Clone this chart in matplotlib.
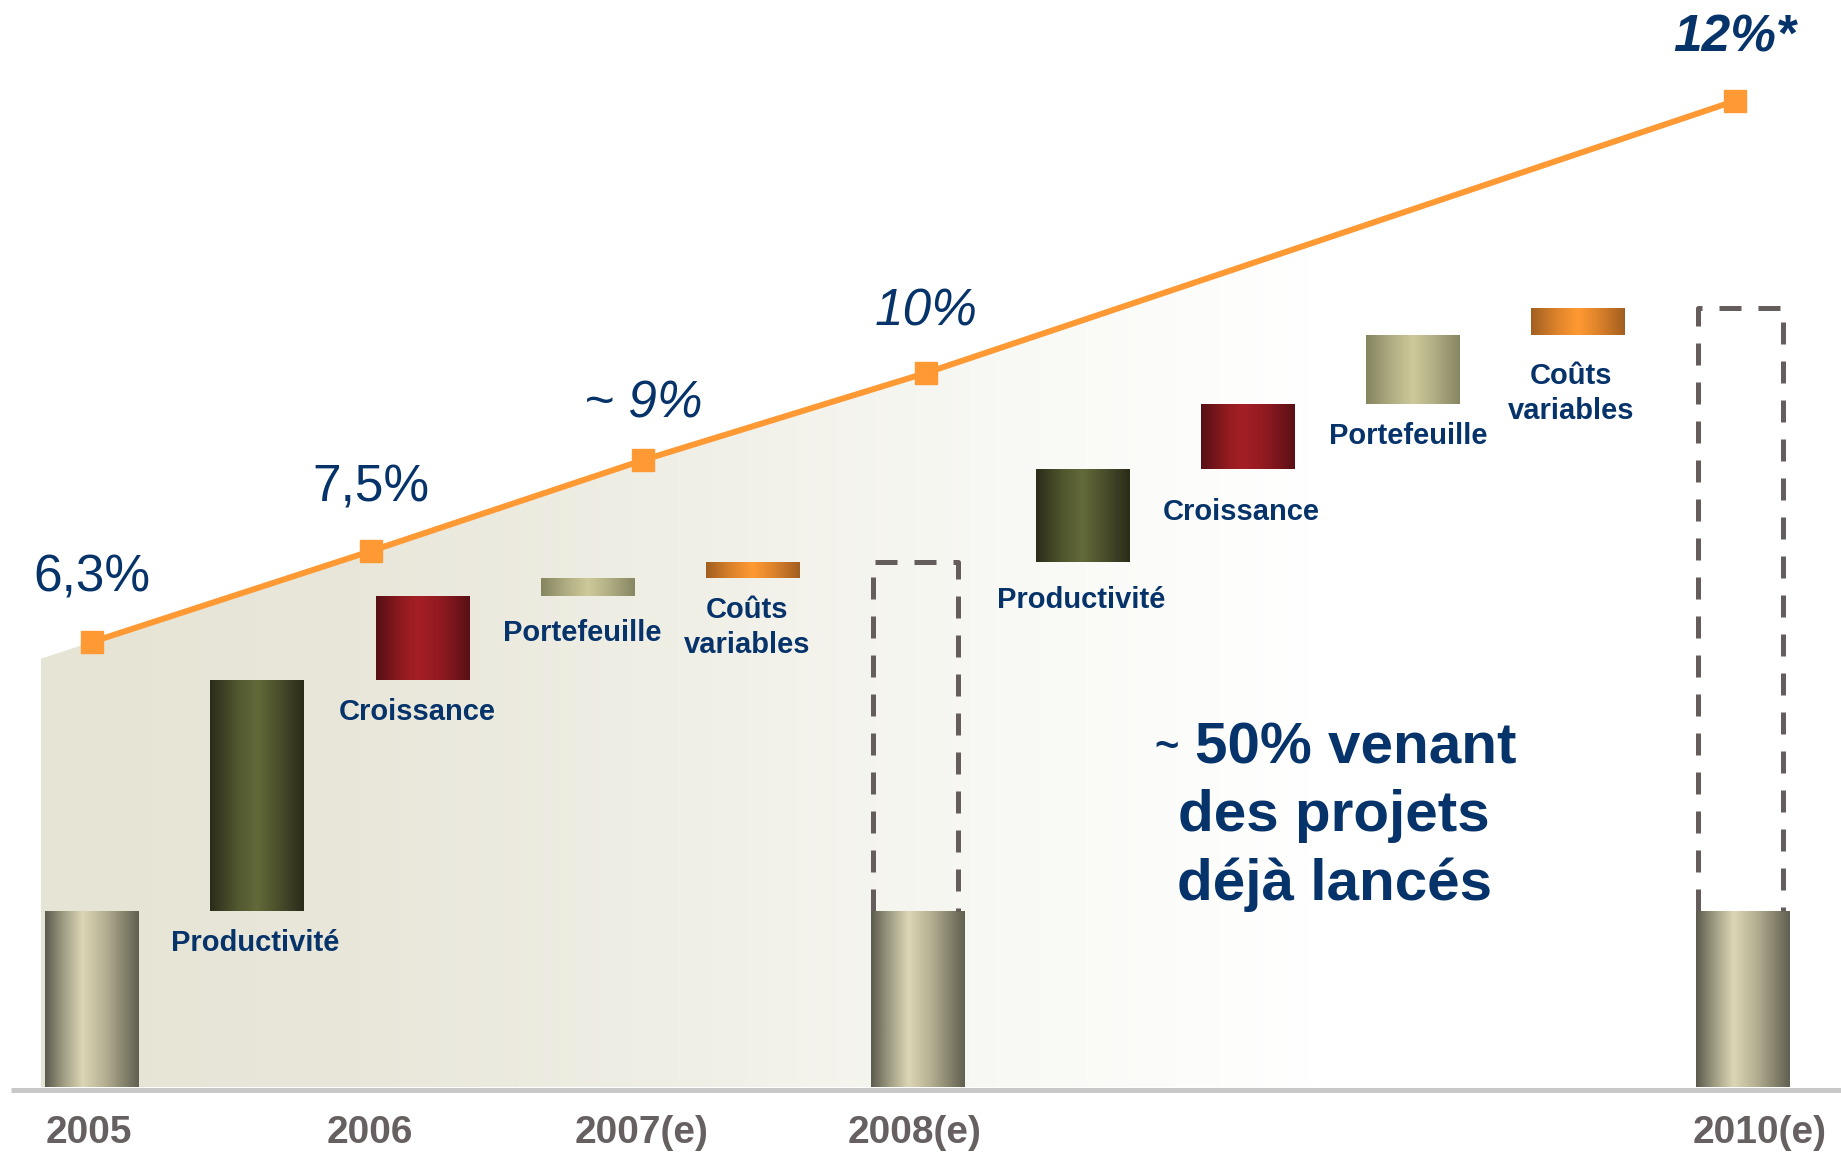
import matplotlib
matplotlib.use("Agg")
import matplotlib.pyplot as plt
import numpy as np
from matplotlib.colors import LinearSegmentedColormap
from matplotlib.patches import Polygon

plt.rcParams['font.family'] = ['Liberation Sans', 'DejaVu Sans']

# --- data -----------------------------------------------------------------
# margin line (schematic levels) and its labels
years = ['2005', '2006', '2007(e)', '2008(e)', '2010(e)']
line_x = [0, 1.69, 3.34, 5.05, 9.95]
line_y = [44.5, 53.6, 62.7, 71.4, 98.6]
pct_labels = ['6,3%', '7,5%', '~ 9%', '10%', '12%*']
pct_style = ['normal', 'normal', 'italic', 'italic', 'italic']
pct_weight = ['normal', 'normal', 'normal', 'normal', 'bold']
tick_x = [-0.02, 1.68, 3.33, 4.98, 10.1]

# waterfall bars
base_x = [0, 5, 10]
base_h = 17.6
steps_x = [1, 2, 3, 4, 6, 7, 8, 9]
steps_name = ['Productivité', 'Croissance', 'Portefeuille', 'Coûts\nvariables'] * 2
steps_h = [23.1, 8.4, 1.8, 1.6, 9.3, 6.5, 6.9, 2.7]
steps_kind = ['prod', 'crois', 'port', 'couts'] * 2
boxes_x = [5, 10]

note_lines = ['50% venant', 'des projets', 'déjà lancés']

# --- styling ----------------------------------------------------------------
navy = '#06336a'
orange = '#ff9933'
bar_w = 0.565
label_gap = [1.8, 1.8, 2.3, 1.8, 2.4, 2.9, 1.8, 2.7]
label_dx = [-0.01, -0.03, -0.03, -0.03, -0.01, -0.04, -0.03, -0.04]
pct_dy = [5.0, 5.0, 4.2, 4.8, 5.0]

cmaps = {
    'base': LinearSegmentedColormap.from_list('base', [(0, '#5c5a4c'), (0.2, '#a19e85'), (0.4, '#dcd6b5'),
                                                       (0.65, '#b3ae90'), (1, '#615f50')]),
    'prod': LinearSegmentedColormap.from_list('prod', [(0, '#2c2c1a'), (0.3, '#52582f'), (0.5, '#636a3a'),
                                                       (0.75, '#484c2a'), (1, '#2b2b19')]),
    'crois': LinearSegmentedColormap.from_list('crois', [(0, '#561015'), (0.3, '#951c21'), (0.45, '#a51f25'),
                                                         (0.7, '#8e1a20'), (1, '#5a1015')]),
    'port': LinearSegmentedColormap.from_list('port', [(0, '#858560'), (0.3, '#b4b185'), (0.5, '#cdc99a'),
                                                       (0.7, '#b5b287'), (1, '#868662')]),
    'couts': LinearSegmentedColormap.from_list('couts', [(0, '#a15f20'), (0.3, '#e2862c'), (0.5, '#ff9a33'),
                                                         (0.7, '#e0852c'), (1, '#a35e1f')]),
}

fig = plt.figure(figsize=(18.41, 11.55), dpi=100)
ax = fig.add_axes([0, 0, 1, 1])
xmin, xmax = -92 / 165.1, (1841 - 92) / 165.1
ymin, ymax = -6.8, 108.7

grad = np.linspace(0, 1, 256).reshape(1, -1)

# shaded area under the line, fading to white
fill_x0 = -0.31
slope = (line_y[1] - line_y[0]) / (line_x[1] - line_x[0])
y_start = line_y[0] + slope * (fill_x0 - line_x[0])
verts = [(fill_x0, 0), (fill_x0, y_start)] + list(zip(line_x, line_y)) + [(line_x[-1], 0)]
poly = Polygon(verts, closed=True, facecolor='none', edgecolor='none')
ax.add_patch(poly)
bg_cmap = LinearSegmentedColormap.from_list('bg', [(0, '#e6e4d4'), (0.25, '#e9e7da'), (0.5, '#f0efe6'),
                                                    (0.75, '#f8f8f4'), (1, '#ffffff')])
im = ax.imshow(grad, cmap=bg_cmap, extent=[fill_x0, 7.4, 0, 100], aspect='auto', zorder=0.5)
im.set_clip_path(poly)


def gbar(x, bottom, height, kind):
    ax.imshow(grad, cmap=cmaps[kind], extent=[x - bar_w / 2, x + bar_w / 2, bottom, bottom + height],
              aspect='auto', interpolation='bilinear', zorder=2)


# base bars
for bx in base_x:
    gbar(bx, 0, base_h, 'base')

# step bars + labels
level = base_h
for sx, sh, kind, name, gap, dx in zip(steps_x, steps_h, steps_kind, steps_name, label_gap, label_dx):
    gbar(sx, level, sh, kind)
    ax.text(sx + dx, level - gap, name, ha='center', va='top', fontsize=21, fontweight='bold',
            color=navy, linespacing=1.3, zorder=3)
    level += sh
    if sx == 4:
        top_2008 = level
top_2010 = level

# dashed boxes
for bx, top in zip(boxes_x, [top_2008, top_2010]):
    xl, xr = bx - bar_w / 2 + 0.01, bx + bar_w / 2 - 0.04
    ax.plot([xl, xl, xr, xr], [base_h, top, top, base_h], color='#655d5b', lw=3.6,
            linestyle=(0, (4.4, 3.4)), zorder=3)

# baseline
ax.plot([-0.49, xmax], [-0.25, -0.25], color='#c8c8c8', lw=3.6, solid_capstyle='butt', zorder=1)

# margin line
ax.plot(line_x, line_y, color=orange, lw=4.3, marker='s', markersize=16, zorder=4)
for lx, ly, lab, st, wt, dy in zip(line_x, line_y, pct_labels, pct_style, pct_weight, pct_dy):
    ax.text(lx, ly + dy, lab, ha='center', va='baseline', fontsize=37, style=st,
            fontweight=wt, color=navy, zorder=5)

# year labels
for tx, yr in zip(tick_x, years):
    ax.text(tx, -5.6, yr, ha='center', va='baseline', fontsize=28, fontweight='bold', color='#666060')

# note
ax.text(6.51, 33.9, '~', ha='center', va='center', fontsize=30, fontweight='bold', color=navy)
ax.text(7.656, 32.4, note_lines[0], ha='center', va='baseline', fontsize=42, fontweight='bold', color=navy)
ax.text(7.523, 25.6, note_lines[1], ha='center', va='baseline', fontsize=42, fontweight='bold', color=navy)
ax.text(7.523, 18.7, note_lines[2], ha='center', va='baseline', fontsize=42, fontweight='bold', color=navy)

ax.set_xlim(xmin, xmax)
ax.set_ylim(ymin, ymax)
ax.axis('off')

fig.savefig('out.png', dpi=100)
